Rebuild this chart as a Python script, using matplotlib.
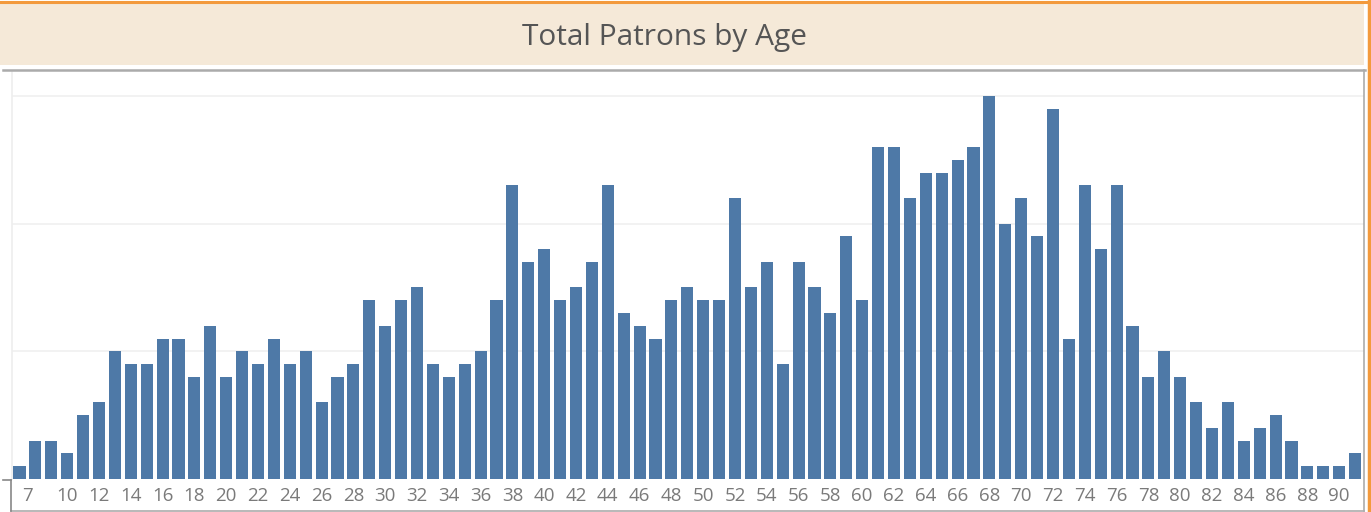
import matplotlib
matplotlib.use("Agg")
import matplotlib.pyplot as plt
from matplotlib.lines import Line2D
from matplotlib.patches import Rectangle
from matplotlib.transforms import ScaledTranslation

W, H = 1371, 512

ages = list(range(7, 92))
patrons = [
    1, 3, 3, 2, 5, 6, 10, 9, 9, 11,       # 7-16
    11, 8, 12, 8, 10, 9, 11, 9, 10, 6,    # 17-26
    8, 9, 14, 12, 14, 15, 9, 8, 9, 10,    # 27-36
    14, 23, 17, 18, 14, 15, 17, 23, 13, 12,  # 37-46
    11, 14, 15, 14, 14, 22, 15, 17, 9, 17,   # 47-56
    15, 13, 19, 14, 26, 26, 22, 24, 24, 25,  # 57-66
    26, 30, 20, 22, 19, 29, 11, 23, 18, 23,  # 67-76
    12, 8, 10, 8, 6, 4, 6, 3, 4, 5,          # 77-86
    3, 1, 1, 1, 2,                           # 87-91
]
tick_ages = [7] + list(range(10, 91, 2))
grid_values = [10, 20, 30]

BAR_COLOR = "#4E79A7"
BAND_COLOR = "#F5E9D8"
ORANGE = "#F39A3C"
FRAME_GRAY = "#ABABAB"


def fx(px):
    return px / W


def fy(py):
    return 1 - py / H


def hline(fig, x0, x1, y, color, lw):
    fig.add_artist(Line2D([fx(x0), fx(x1)], [fy(y), fy(y)], color=color, lw=lw,
                          transform=fig.transFigure))


def vline(fig, x, y0, y1, color, lw):
    fig.add_artist(Line2D([fx(x), fx(x)], [fy(y0), fy(y1)], color=color, lw=lw,
                          transform=fig.transFigure))


fig = plt.figure(figsize=(W / 100, H / 100), dpi=100)
fig.patch.set_facecolor("white")

# title band
fig.add_artist(Rectangle((0, fy(65)), fx(1364), fy(4) - fy(65), facecolor=BAND_COLOR,
                         edgecolor="none", transform=fig.transFigure))
fig.text(fx(665), fy(38), "Total Patrons by Age", ha="center", va="center",
         fontsize=21.5, family="Open Sans", color="#555555")
hline(fig, 0, W, 1.5, ORANGE, 2.2)
vline(fig, 1368.5, 0, H, ORANGE, 2.5)

# chart frame
hline(fig, 3, 1365, 70, FRAME_GRAY, 1.8)
vline(fig, 1364, 70, 511, FRAME_GRAY, 1.2)
hline(fig, 11, 1364, 510.5, FRAME_GRAY, 1.2)
vline(fig, 11, 480, 511, "#888888", 1.2)
hline(fig, 3, 11, 480, "#888888", 1.2)

ax = fig.add_axes([fx(12), fy(479), fx(1364) - fx(12), fy(72) - fy(479)])
ax.bar(ages, patrons, width=0.76, color=BAR_COLOR, zorder=3)
for g in grid_values:
    ax.axhline(g, color="#F0F0F0", lw=1.2, zorder=1)

ax.set_xlim(6.53, 91.56)
ax.set_ylim(0, 31.87)
ax.set_yticks([])
ax.set_xticks(tick_ages)
ax.set_xticklabels([str(a) for a in tick_ages], fontsize=13.5, family="Open Sans",
                   color="#7A7A7A")
ax.tick_params(axis="x", length=0, pad=5.5)
first = ax.get_xticklabels()[0]
first.set_transform(first.get_transform() + ScaledTranslation(0.08, 0, fig.dpi_scale_trans))
for side in ["top", "right", "bottom"]:
    ax.spines[side].set_visible(False)
ax.spines["left"].set_color("#EEEEEE")
ax.spines["left"].set_linewidth(1.2)

fig.savefig("out.png", dpi=100)
